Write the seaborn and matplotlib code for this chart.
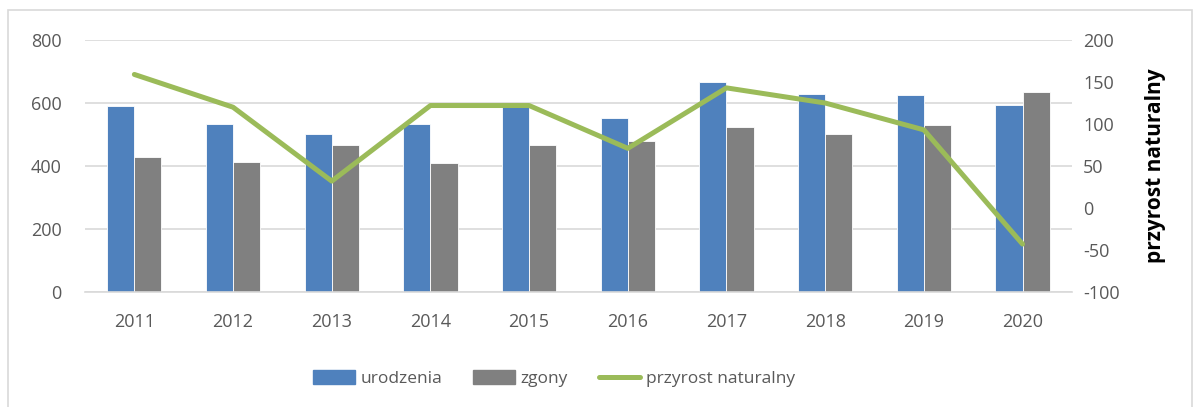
import pandas as pd
import seaborn as sns
import matplotlib.pyplot as plt
from matplotlib.patches import Rectangle, Patch
from matplotlib.lines import Line2D

# dane
lata = ["2011", "2012", "2013", "2014", "2015", "2016", "2017", "2018", "2019", "2020"]
urodzenia = [590, 534, 500, 532, 588, 551, 667, 627, 624, 594]
zgony = [430, 414, 468, 409, 466, 479, 524, 501, 531, 636]
przyrost = [159, 120, 32, 122, 122, 71, 143, 125, 93, -43]

kolor_ur = "#4F81BD"
kolor_zg = "#808080"
kolor_pn = "#9BBB59"

sns.set_theme(style="white")
plt.rcParams["font.family"] = ["Open Sans", "DejaVu Sans"]
plt.rcParams["axes.unicode_minus"] = False

df = pd.DataFrame({"rok": lata * 2,
                   "wartosc": urodzenia + zgony,
                   "seria": ["urodzenia"] * len(lata) + ["zgony"] * len(lata)})
df_pn = pd.DataFrame({"rok": lata, "przyrost": przyrost})

fig = plt.figure(figsize=(11.99, 4.07), dpi=100)
ax = fig.add_axes([0.0709, 0.2826, 0.8231, 0.6191])

sns.barplot(data=df, x="rok", y="wartosc", hue="seria",
            palette=[kolor_ur, kolor_zg], saturation=1, width=0.55, gap=0,
            edgecolor="white", linewidth=0.6, ax=ax, legend=False)
ax.set_ylim(0, 800)
ax.set_yticks(range(0, 801, 200))
ax.set_xlim(-0.5, len(lata) - 0.5)
ax.grid(axis="y", color="#D9D9D9", linewidth=1.2)
ax.set_axisbelow(True)
for s in ["top", "right", "left"]:
    ax.spines[s].set_visible(False)
ax.spines["bottom"].set_color("#D9D9D9")
ax.spines["bottom"].set_linewidth(1.2)
ax.set_xlabel("")
ax.set_ylabel("")
ax.tick_params(axis="y", length=0, pad=17, labelsize=13, labelcolor="#595959")
ax.tick_params(axis="x", length=0, pad=15, labelsize=13, labelcolor="#595959")

ax2 = ax.twinx()
sns.lineplot(data=df_pn, x="rok", y="przyrost", color=kolor_pn,
             linewidth=3.6, ax=ax2, sort=False)
ax2.set_ylim(-100, 200)
ax2.set_yticks(range(-100, 201, 50))
for s in ax2.spines.values():
    s.set_visible(False)
ax2.tick_params(axis="y", length=0, pad=8, labelsize=13, labelcolor="#595959")
ax2.set_ylabel("przyrost naturalny", fontsize=15, fontweight="bold",
               color="black", labelpad=18)
ax2.set_xlim(-0.5, len(lata) - 0.5)

uchwyty = [Patch(color=kolor_ur, label="urodzenia"),
           Patch(color=kolor_zg, label="zgony"),
           Line2D([0], [0], color=kolor_pn, linewidth=3.6, label="przyrost naturalny")]
fig.legend(handles=uchwyty, loc="center", bbox_to_anchor=(0.462, 0.07), ncol=3,
           frameon=False, fontsize=12.5, handlelength=2.4, handleheight=0.9,
           columnspacing=1.8, handletextpad=0.3, labelcolor="#595959")

fig.patches.append(Rectangle((8 / 1199, -0.01), 1184 / 1199, 1 - 10 / 407 + 0.01,
                             transform=fig.transFigure, fill=False,
                             edgecolor="#D9D9D9", linewidth=1.2))

fig.savefig("out.png", dpi=100)
